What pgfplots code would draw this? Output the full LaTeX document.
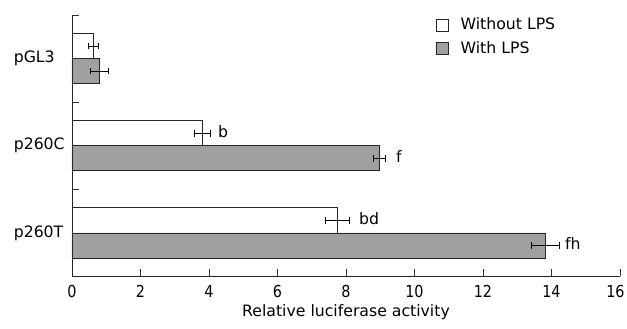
\documentclass[border=0pt]{standalone}
\usepackage{fontspec}
\setmainfont{DejaVu Sans}
\newfontfamily\numfont[FakeStretch=0.87]{DejaVu Sans}
\usepackage{pgfplots}
\pgfplotsset{compat=1.18}
\usetikzlibrary{calc}
\definecolor{barg}{RGB}{160,160,160}
\pgfplotstableread{
y x e
0.1435 7.75 0.36
1.1435 3.80 0.24
2.1435 0.63 0.15
}\without
\pgfplotstableread{
y x e
-0.1435 13.82 0.40
0.8565 8.97 0.18
1.8565 0.80 0.26
}\with
\begin{document}
\fontsize{15.7}{18}\selectfont
\begin{tikzpicture}
\begin{axis}[name=ax, scale only axis, width=548pt, height=261.5pt,
  xmin=0, xmax=16, ymin=-0.5, ymax=2.5,
  axis lines*=left,
  axis line style={line width=0.9pt, black!85},
  tick align=inside, major tick length=7pt,
  tick style={line width=0.8pt, black!80},
  xtick={0,2,...,14},
  extra x ticks={16},
  extra x tick style={xticklabel style={xshift=-4.5pt}},
  ytick={0.5,1.5,2.5}, yticklabels={},
  extra y ticks={0,1,2},
  extra y tick labels={p260T,p260C,pGL3},
  extra y tick style={major tick length=0pt},
  yticklabel style={text width=58pt, align=left, inner sep=0pt, font=\fontsize{15.7}{18}\selectfont},
  xticklabel style={inner sep=0pt, yshift=-9pt, font=\numfont\fontsize{16.5}{18}\selectfont},
  /pgf/number format/assume math mode=true,
  label style={font=\fontsize{15.7}{18}\selectfont},
  xlabel={Relative luciferase activity},
  xlabel style={inner sep=0pt, yshift=-6pt},
  legend style={draw=none, fill=none, at={(rel axis cs:0.664,0.99)}, anchor=north west,
    font=\fontsize{15.7}{18}\selectfont, row sep=9pt, inner sep=0pt,
    nodes={inner sep=0pt},
    /tikz/every odd column/.append style={column sep=12pt}},
  legend cell align=left,
  legend image code/.code={\draw[#1, line width=0.6pt] (0pt,-6pt) rectangle (12pt,6pt);},
]
\addplot[xbar, bar width=0.287, bar shift=0, fill=white, draw=black!85, line width=0.8pt,
  error bars/.cd, x dir=both, x explicit, error mark=|,
  error bar style={line width=0.8pt, black}, error mark options={mark size=3.4pt, line width=0.8pt, black}]
  table[x=x, y=y, x error=e] {\without};
\addlegendentry{Without LPS}
\addplot[xbar, bar width=0.287, bar shift=0, fill=barg, draw=black!85, line width=0.8pt,
  error bars/.cd, x dir=both, x explicit, error mark=|,
  error bar style={line width=0.8pt, black}, error mark options={mark size=3.4pt, line width=0.8pt, black}]
  table[x=x, y=y, x error=e] {\with};
\addlegendentry{With LPS}
\node[anchor=mid west, inner sep=0pt] at (axis cs:4.26,1.1435) {b};
\node[anchor=mid west, inner sep=0pt] at (axis cs:9.46,0.8565) {f};
\node[anchor=mid west, inner sep=0pt] at (axis cs:8.38,0.1435) {bd};
\node[anchor=mid west, inner sep=0pt] at (axis cs:14.39,-0.1435) {fh};
\end{axis}
\pgfresetboundingbox
\path[use as bounding box] ($(ax.south west)+(-72pt,-52.3pt)$) rectangle ($(ax.north east)+(7pt,15pt)$);
\end{tikzpicture}
\end{document}
